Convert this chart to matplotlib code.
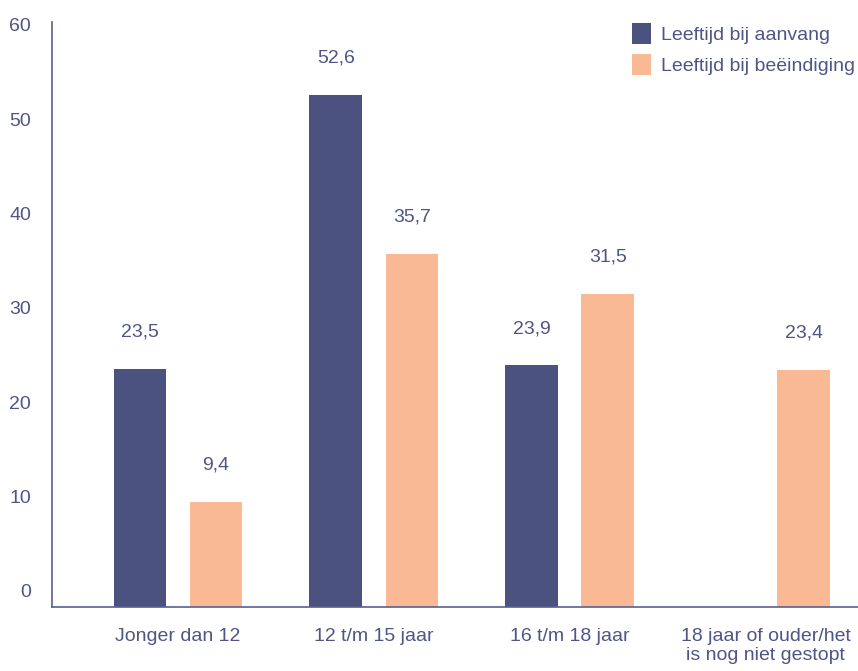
import matplotlib
matplotlib.use("Agg")
import matplotlib.pyplot as plt
import numpy as np

categories = ["Jonger dan 12", "12 t/m 15 jaar", "16 t/m 18 jaar", "18 jaar of ouder/het\nis nog niet gestopt"]
series_names = ["Leeftijd bij aanvang", "Leeftijd bij beëindiging"]
aanvang = [23.5, 52.6, 23.9, None]
beeindiging = [9.4, 35.7, 31.5, 23.4]
yticks = [0, 10, 20, 30, 40, 50, 60]

dark = "#4B5280"
orange = "#F9B995"
txt = "#4F5585"
fs = 14

plt.rcParams['font.family'] = ['Liberation Sans', 'DejaVu Sans']
plt.rcParams['font.size'] = fs

fig = plt.figure(figsize=(8.58, 6.71), dpi=100)
ax = fig.add_axes([52/858, (671-607)/671, 1 - 52/858, (607-22)/671])

ymin, ymax = -1.7, 60.3
x = np.arange(len(categories))
w = 0.27
off = 0.194

for vals, dx, col, name in [(aanvang, -off, dark, series_names[0]), (beeindiging, off, orange, series_names[1])]:
    xs = [xi + dx for xi, v in zip(x, vals) if v is not None]
    vs = [v for v in vals if v is not None]
    ax.bar(xs, [v - ymin for v in vs], width=w, bottom=ymin, color=col, label=name)
    for xi, v in zip(xs, vs):
        ax.annotate(f"{v:.1f}".replace(".", ","), (xi, v), xytext=(0, 26.5), textcoords="offset points",
                    ha="center", va="center", color=txt, fontsize=fs)

ax.set_xlim(-0.643, 3.47)
ax.set_ylim(ymin, ymax)
ax.set_yticks(yticks)
ax.set_yticklabels([str(t) for t in yticks])
ax.set_xticks(x)
ax.set_xticklabels(categories, linespacing=1.15)
ax.tick_params(axis='y', length=0, pad=15, colors=txt, labelsize=fs)
ax.tick_params(axis='x', length=0, pad=15, colors=txt, labelsize=fs)
for s in ["top", "right"]:
    ax.spines[s].set_visible(False)
for s in ["left", "bottom"]:
    ax.spines[s].set_color("#5A6090")
    ax.spines[s].set_linewidth(1.2)

leg = ax.legend(loc="upper right", bbox_to_anchor=(1.006, 1.012), frameon=False, handlelength=1.0, handleheight=1.3,
                handletextpad=0.5, labelspacing=0.5, fontsize=fs, borderaxespad=0.0)
for t in leg.get_texts():
    t.set_color(txt)

fig.savefig("out.png", dpi=100)
